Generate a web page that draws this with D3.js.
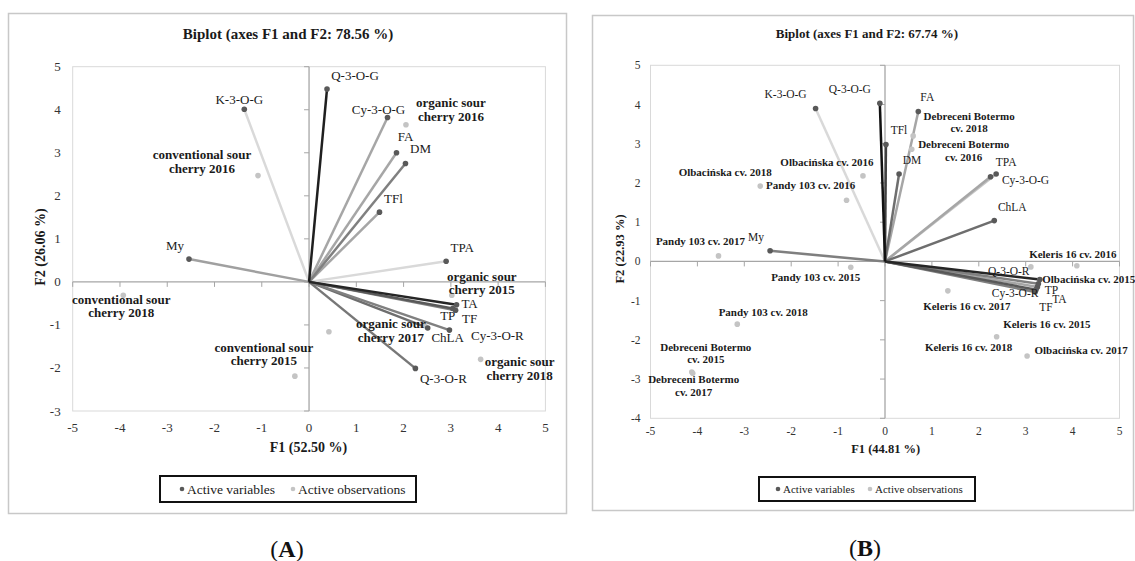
<!DOCTYPE html>
<html>
<head>
<meta charset="utf-8">
<script src="https://cdn.jsdelivr.net/npm/d3@7"></script>
<style>
  body { margin: 0; background: #fff; }
  svg { display: block; font-family: "Liberation Serif", "Times New Roman", serif; }
</style>
</head>
<body>
<svg id="chart" width="1135" height="561"></svg>
<script>
(function(){
    "use strict";

    // ---- panel A : conventional vs organic sour cherry ----
    var aTicksX = [-5, -4, -3, -2, -1, 0, 1, 2, 3, 4, 5];
    var aTicksY = [-3, -2, -1, 0, 1, 2, 3, 4, 5];
    var aVarNames = ["K-3-O-G", "TPA", "My", "FA", "Cy-3-O-G", "TFl", "DM", "Q-3-O-R", "ChLA", "Cy-3-O-R", "TF", "TP", "TA", "Q-3-O-G"];
    var aVarF1 = [-1.37, 2.90, -2.54, 1.85, 1.66, 1.49, 2.04, 2.25, 2.51, 2.97, 3.10, 3.04, 3.12, 0.38];
    var aVarF2 = [4.01, 0.48, 0.53, 3.00, 3.82, 1.62, 2.75, -2.01, -1.07, -1.12, -0.66, -0.62, -0.53, 4.48];
    var aObsNames = ["organic sour\ncherry 2016", "conventional sour\ncherry 2016", "organic sour\ncherry 2015",
        "conventional sour\ncherry 2018", "organic sour\ncherry 2018", "conventional sour\ncherry 2015",
        "", "organic sour\ncherry 2017"];
    var aObsF1 = [2.05, -1.08, 3.02, -3.93, 3.63, -0.30, 0.42, 2.45];
    var aObsF2 = [3.65, 2.47, -0.31, -0.31, -1.80, -2.19, -1.16, -1.02];

    // ---- panel B : four cultivars ----
    var bTicksX = [-5, -4, -3, -2, -1, 0, 1, 2, 3, 4, 5];
    var bTicksY = [-4, -3, -2, -1, 0, 1, 2, 3, 4, 5];
    var bVarNames = ["K-3-O-G", "TPA", "Cy-3-O-G", "FA", "My", "ChLA", "DM", "TA", "Cy-3-O-R", "TP", "TF", "TFl", "Q-3-O-R", "Q-3-O-G"];
    var bVarF1 = [-1.48, 2.37, 2.25, 0.71, -2.45, 2.33, 0.30, 3.25, 3.20, 3.27, 3.22, 0.02, 3.30, -0.11];
    var bVarF2 = [3.90, 2.23, 2.16, 3.82, 0.27, 1.04, 2.23, -0.65, -0.78, -0.57, -0.72, 2.98, -0.46, 4.03];
    var bObsNames = ["Debreceni Botermo\ncv. 2018", "Debreceni Botermo\ncv. 2016", "Debreceni Botermo\ncv. 2015",
        "Debreceni Botermo\ncv. 2017", "Keleris 16 cv. 2016", "Keleris 16 cv. 2017", "Keleris 16 cv. 2018",
        "Keleris 16 cv. 2015", "Olbacińska cv. 2018", "Olbacińska cv. 2016", "Olbacińska cv. 2015",
        "Olbacińska cv. 2017", "Pandy 103 cv. 2016", "Pandy 103 cv. 2017", "Pandy 103 cv. 2015", "Pandy 103 cv. 2018"];
    var bObsF1 = [0.60, 0.57, -4.12, -4.10, 4.09, 1.34, 2.38, 3.11, -2.66, -0.47, 3.30, 3.03, -0.82, -3.55, -0.73, -3.15];
    var bObsF2 = [3.20, 2.86, -2.82, -2.85, -0.11, -0.75, -1.92, -0.14, 1.92, 2.18, -0.47, -2.41, 1.56, 0.14, -0.15, -1.60];

    // line shades (same order as the variables)
    var aLineColors = ["#d9d9d9", "#d9d9d9", "#a0a0a0", "#a6a6a6", "#a6a6a6", "#a6a6a6", "#808080",
        "#777777", "#6e6e6e", "#808080", "#808080", "#595959", "#262626", "#1f1f1f"];
    var bLineColors = ["#d9d9d9", "#c4c4c4", "#a6a6a6", "#a6a6a6", "#7f7f7f", "#6e6e6e", "#6e6e6e",
        "#a6a6a6", "#7f7f7f", "#808080", "#595959", "#404040", "#262626", "#111111"];

    // label offsets from the point, px [dx, dy]
    var aVarLab = [[-5,-10],[16,-14],[-14,-14],[9,-16],[-9,-8],[14,-14],[15,-15],[28,10],[20,10],[48,5],[14,8],[-5,7],[13,-1],[28,-14]];
    var aObsLab = [[45,-22],[-56,-21],[30,-19],[-2,4],[39,2],[-31,-29],[0,0],[-34,-2]];
    var bVarLab = [[-30,-14],[10,-12],[35,3],[9,-15],[-14,-14],[18,-14],[13,-14],[22,12],[-20,1],[13,6],[10,17],[13,-15],[-31,-8],[-30,-14]];
    var bObsLab = [[56,-20],[52,-5],[14,-25],[1,6],[-4,-12],[19,15],[-28,10],[16,57],[-35,-14],[-36,-14],[49,-1],[54,-6],[-36,-15],[-18,-15],[-35,10],[26,-12]];

    var svg = d3.select("#chart");

    function biplot(p) {
        var g = svg.append("g");

        // outer frame
        g.append("rect")
            .attr("x", p.frame[0] + 0.5).attr("y", p.frame[1] + 0.5)
            .attr("width", p.frame[2] - p.frame[0]).attr("height", p.frame[3] - p.frame[1])
            .attr("fill", "none").attr("stroke", "#c8c8c8").attr("stroke-width", 1.5);

        var x = d3.scaleLinear().domain([p.ticksX[0], p.ticksX[p.ticksX.length - 1]]).range([p.plot.left, p.plot.right]);
        var y = d3.scaleLinear().domain([p.ticksY[0], p.ticksY[p.ticksY.length - 1]]).range([p.plot.bottom, p.plot.top]);

        g.append("rect")
            .attr("x", p.plot.left).attr("y", p.plot.top)
            .attr("width", p.plot.right - p.plot.left).attr("height", p.plot.bottom - p.plot.top)
            .attr("fill", "none").attr("stroke", "#d9d9d9").attr("stroke-width", 1);

        // zero axes with small ticks
        g.append("line").attr("x1", x(0)).attr("x2", x(0)).attr("y1", p.plot.top).attr("y2", p.plot.bottom)
            .attr("stroke", "#a6a6a6").attr("stroke-width", 1.3);
        g.append("line").attr("x1", p.plot.left).attr("x2", p.plot.right).attr("y1", y(0)).attr("y2", y(0))
            .attr("stroke", "#a6a6a6").attr("stroke-width", 1.3);
        g.selectAll(".ty").data(p.ticksY).enter().append("line")
            .attr("x1", x(0) - 5).attr("x2", x(0)).attr("y1", function(d){ return y(d); }).attr("y2", function(d){ return y(d); })
            .attr("stroke", "#a6a6a6");
        g.selectAll(".tx").data(p.ticksX).enter().append("line")
            .attr("x1", function(d){ return x(d); }).attr("x2", function(d){ return x(d); })
            .attr("y1", y(0)).attr("y2", y(0) + 5)
            .attr("stroke", "#a6a6a6");

        // tick labels
        g.selectAll(".lx").data(p.ticksX).enter().append("text")
            .attr("x", function(d){ return x(d); }).attr("y", p.plot.bottom + p.tickGapX)
            .attr("text-anchor", "middle").attr("dominant-baseline", "central")
            .attr("font-size", p.fs.tick).attr("fill", "#333")
            .text(function(d){ return d; });
        g.selectAll(".ly").data(p.ticksY).enter().append("text")
            .attr("x", p.plot.left - p.tickGapY).attr("y", function(d){ return y(d); })
            .attr("text-anchor", "end").attr("dominant-baseline", "central")
            .attr("font-size", p.fs.tick).attr("fill", "#333")
            .text(function(d){ return d; });

        // vectors
        var vars = p.varNames.map(function(n, i){ return {name: n, f1: p.varF1[i], f2: p.varF2[i], c: p.lineColors[i], lab: p.varLab[i]}; });
        var obs = p.obsNames.map(function(n, i){ return {name: n, f1: p.obsF1[i], f2: p.obsF2[i], lab: p.obsLab[i]}; });

        g.selectAll(".vec").data(vars).enter().append("line")
            .attr("x1", x(0)).attr("y1", y(0))
            .attr("x2", function(d){ return x(d.f1); }).attr("y2", function(d){ return y(d.f2); })
            .attr("stroke", function(d){ return d.c; }).attr("stroke-width", p.lw);

        g.selectAll(".obs").data(obs).enter().append("circle")
            .attr("cx", function(d){ return x(d.f1); }).attr("cy", function(d){ return y(d.f2); })
            .attr("r", 2.8).attr("fill", "#c4c4c4");
        g.selectAll(".var").data(vars).enter().append("circle")
            .attr("cx", function(d){ return x(d.f1); }).attr("cy", function(d){ return y(d.f2); })
            .attr("r", 2.8).attr("fill", "#595959");

        function labels(data, size, bold, lh) {
            var t = g.selectAll(null).data(data).enter().append("text")
                .attr("text-anchor", "middle").attr("font-size", size)
                .attr("font-weight", bold ? "bold" : "normal").attr("fill", "#1a1a1a");
            t.each(function(d){
                var lines = d.name.split("\n");
                var px = x(d.f1) + d.lab[0], py = y(d.f2) + d.lab[1];
                d3.select(this).selectAll("tspan").data(lines).enter().append("tspan")
                    .attr("x", px).attr("y", function(l, k){ return py + k * lh; })
                    .attr("dominant-baseline", "central")
                    .text(function(l){ return l; });
            });
        }
        labels(vars, p.fs.varLab, false, 0);
        labels(obs, p.fs.obsLab, true, p.obsLh);

        // titles
        g.append("text").attr("x", p.title[0]).attr("y", p.title[1])
            .attr("text-anchor", "middle").attr("dominant-baseline", "central")
            .attr("font-size", p.fs.title).attr("font-weight", "bold").attr("fill", "#1a1a1a")
            .text(p.titleText);
        g.append("text").attr("x", p.xTitle[0]).attr("y", p.xTitle[1])
            .attr("text-anchor", "middle").attr("dominant-baseline", "central")
            .attr("font-size", p.fs.axis).attr("font-weight", "bold").attr("fill", "#1a1a1a")
            .text(p.xTitleText);
        g.append("text")
            .attr("transform", "translate(" + p.yTitle[0] + "," + p.yTitle[1] + ") rotate(-90)")
            .attr("text-anchor", "middle").attr("dominant-baseline", "central")
            .attr("font-size", p.fs.axis).attr("font-weight", "bold").attr("fill", "#1a1a1a")
            .text(p.yTitleText);

        // legend
        var L = p.legend;
        g.append("rect").attr("x", L.box[0]).attr("y", L.box[1])
            .attr("width", L.box[2] - L.box[0]).attr("height", L.box[3] - L.box[1])
            .attr("fill", "#fff").attr("stroke", "#111").attr("stroke-width", 2);
        var cy = (L.box[1] + L.box[3]) / 2;
        [["Active variables", "#595959", L.items[0]], ["Active observations", "#c4c4c4", L.items[1]]].forEach(function(it){
            g.append("circle").attr("cx", it[2]).attr("cy", cy).attr("r", 2.3).attr("fill", it[1]);
            g.append("text").attr("x", it[2] + 5).attr("y", cy)
                .attr("dominant-baseline", "central").attr("font-size", p.fs.legend).attr("fill", "#1a1a1a")
                .text(it[0]);
        });

        // panel letter
        var letter = svg.append("text").attr("x", p.letter[0]).attr("y", p.letter[1])
            .attr("text-anchor", "middle").attr("dominant-baseline", "central")
            .attr("font-size", 24).attr("fill", "#111");
        letter.append("tspan").text("(");
        letter.append("tspan").attr("font-weight", "bold").text(p.letterText);
        letter.append("tspan").text(")");
    }

    biplot({
        frame: [8, 13, 566, 513],
        plot: {left: 72.7, right: 545.4, top: 66.7, bottom: 411},
        ticksX: aTicksX, ticksY: aTicksY,
        varNames: aVarNames, varF1: aVarF1, varF2: aVarF2, lineColors: aLineColors, varLab: aVarLab,
        obsNames: aObsNames, obsF1: aObsF1, obsF2: aObsF2, obsLab: aObsLab,
        lw: 2.5, obsLh: 13.7, tickGapX: 16, tickGapY: 12,
        fs: {tick: 13, varLab: 13, obsLab: 13, title: 15, axis: 14, legend: 13.5},
        titleText: "Biplot (axes F1 and F2: 78.56 %)", title: [288, 33.5],
        xTitleText: "F1 (52.50 %)", xTitle: [308.5, 447],
        yTitleText: "F2 (26.06 %)", yTitle: [40, 247],
        legend: {box: [160, 476, 416, 502], items: [182, 293]},
        letterText: "A", letter: [287, 549]
    });

    biplot({
        frame: [592, 15, 1133, 510],
        plot: {left: 650.5, right: 1119.5, top: 65.3, bottom: 418.3},
        ticksX: bTicksX, ticksY: bTicksY,
        varNames: bVarNames, varF1: bVarF1, varF2: bVarF2, lineColors: bLineColors, varLab: bVarLab,
        obsNames: bObsNames, obsF1: bObsF1, obsF2: bObsF2, obsLab: bObsLab,
        lw: 2.5, obsLh: 12.4, tickGapX: 13, tickGapY: 10,
        fs: {tick: 11.5, varLab: 11.5, obsLab: 11, title: 13, axis: 12.5, legend: 11},
        titleText: "Biplot (axes F1 and F2: 67.74 %)", title: [867, 33.5],
        xTitleText: "F1 (44.81 %)", xTitle: [885.7, 449.3],
        yTitleText: "F2 (22.93 %)", yTitle: [620, 249],
        legend: {box: [759, 477, 975, 501], items: [778, 870]},
        letterText: "B", letter: [865, 548]
    });
})();
</script>
</body>
</html>
